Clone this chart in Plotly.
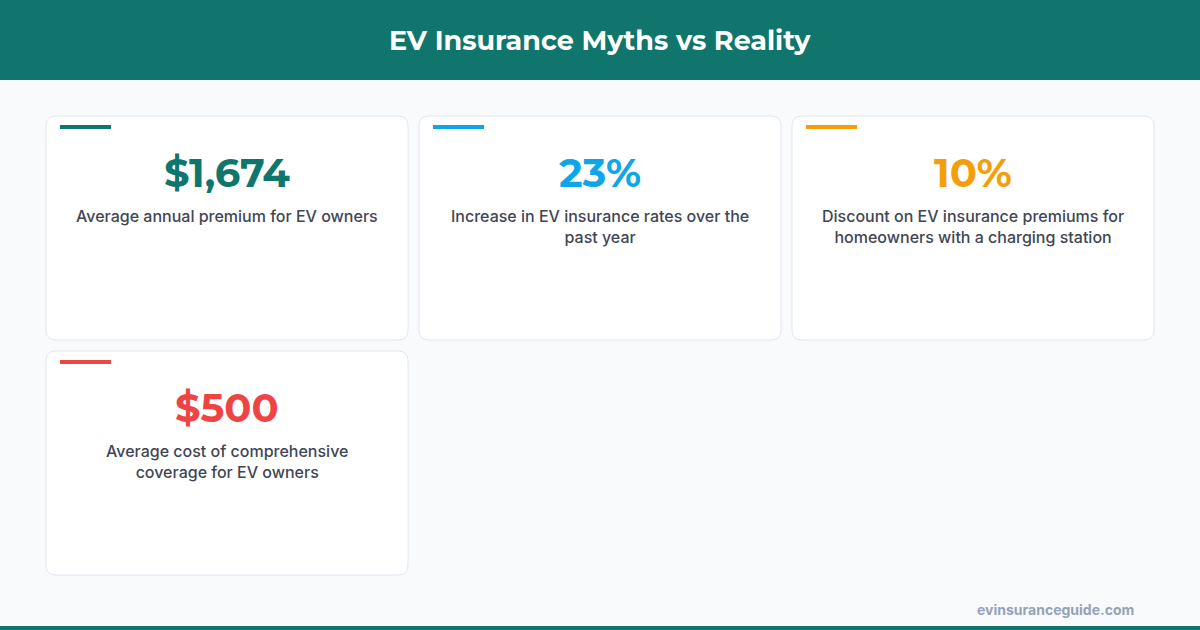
import plotly.graph_objects as go

title = "EV Insurance Myths vs Reality"
values = ["$1,674", "23%", "10%", "$500"]
labels = [
    "Average annual premium for EV owners",
    "Increase in EV insurance rates over the<br>past year",
    "Discount on EV insurance premiums for<br>homeowners with a charging station",
    "Average cost of comprehensive<br>coverage for EV owners",
]
colors = ["#0f766e", "#0ea5e9", "#f59e0b", "#ef4444"]
source = "evinsuranceguide.com"

W, H = 1200, 630
TEAL = "#10766d"

fig = go.Figure()
shapes = []
annotations = []


def rounded(x0, y0, x1, y1, r):
    return (f"M{x0+r},{y0} L{x1-r},{y0} Q{x1},{y0} {x1},{y0+r} L{x1},{y1-r} "
            f"Q{x1},{y1} {x1-r},{y1} L{x0+r},{y1} Q{x0},{y1} {x0},{y1-r} "
            f"L{x0},{y0+r} Q{x0},{y0} {x0+r},{y0} Z")


shapes.append(dict(type="rect", x0=0, x1=W, y0=0, y1=80, fillcolor=TEAL, line_width=0, layer="below"))
shapes.append(dict(type="rect", x0=0, x1=W, y0=626, y1=H, fillcolor=TEAL, line_width=0, layer="below"))
annotations.append(dict(x=W / 2, y=40, text=f"<b>{title}</b>", showarrow=False,
                        font=dict(family="Montserrat, Inter, sans-serif", size=27, color="white")))

card_w, card_h = 362, 224
for i, (v, lab, col) in enumerate(zip(values, labels, colors)):
    x0 = 46 + (i % 3) * 373
    y0 = 116 + (i // 3) * 235
    shapes.append(dict(type="path", path=rounded(x0, y0, x0 + card_w, y0 + card_h, 10),
                       fillcolor="white", line=dict(color="#e2e8f0", width=1), layer="below"))
    shapes.append(dict(type="rect", x0=x0 + 14, x1=x0 + 65, y0=y0 + 9, y1=y0 + 13,
                       fillcolor=col, line_width=0))
    cx = x0 + card_w / 2
    annotations.append(dict(x=cx, y=y0 + 56, text=f"<b>{v}</b>", showarrow=False,
                            font=dict(family="Montserrat, Inter, sans-serif", size=40, color=col)))
    annotations.append(dict(x=cx, y=y0 + 88, yanchor="top", text=lab, showarrow=False,
                            align="center",
                            font=dict(family="Inter, sans-serif", size=16, color="#3f4654", weight=500)))

annotations.append(dict(x=1136, y=609, xanchor="right", text=f"<b>{source}</b>", showarrow=False,
                        font=dict(family="Inter, sans-serif", size=14, color="#94a3b8")))

fig.update_layout(
    width=W, height=H, margin=dict(l=0, r=0, t=0, b=0),
    paper_bgcolor="#f8fafc", plot_bgcolor="#f8fafc",
    xaxis=dict(range=[0, W], visible=False, fixedrange=True),
    yaxis=dict(range=[H, 0], visible=False, fixedrange=True),
    shapes=shapes, annotations=annotations, showlegend=False,
)
fig.write_html("out.html", config={"displayModeBar": False})

# drop the browser's default body margin so the figure sits at 0,0
with open("out.html", encoding="utf-8") as f:
    page = f.read()
page = page.replace("<body>", '<body style="margin:0">', 1)
with open("out.html", "w", encoding="utf-8") as f:
    f.write(page)
